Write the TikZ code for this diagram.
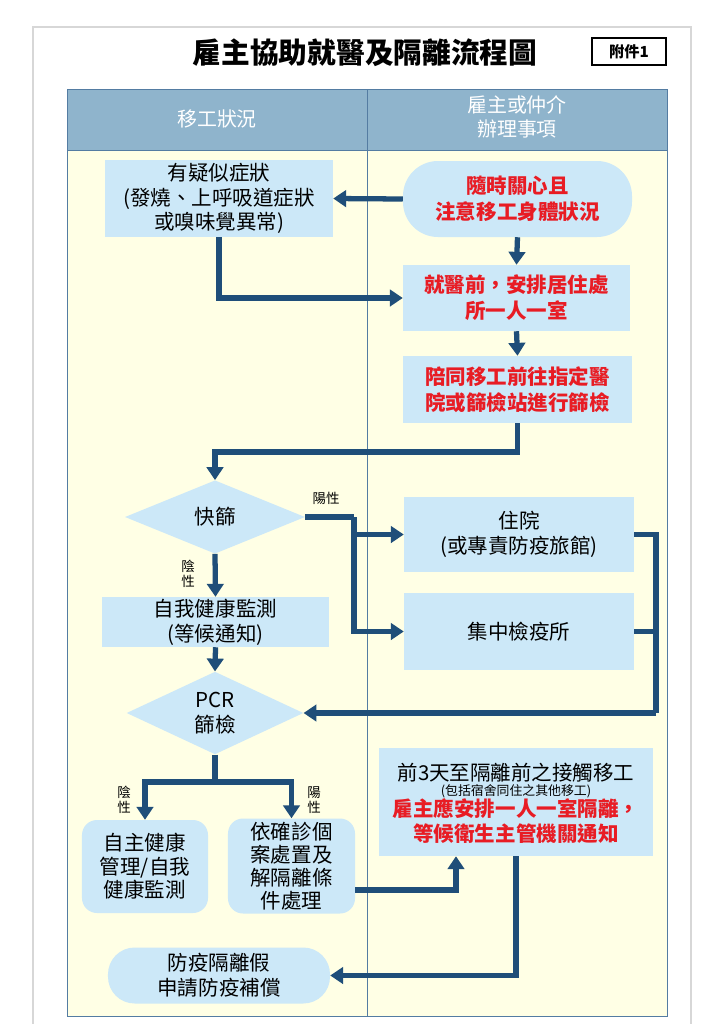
\documentclass[tikz,border=0pt]{standalone}
\usepackage{fontspec}
\setmainfont{Noto Sans CJK TC}
\usetikzlibrary{arrows.meta,shapes.geometric}
\definecolor{boxblue}{RGB}{204,232,248}
\definecolor{cream}{RGB}{255,255,229}
\definecolor{headblue}{RGB}{143,180,204}
\definecolor{arrowblue}{RGB}{31,78,121}
\definecolor{txtred}{RGB}{232,28,36}
\definecolor{tline}{RGB}{84,124,162}
\definecolor{framegray}{RGB}{215,215,215}
\begin{document}
\begin{tikzpicture}[x=0.03cm,y=-0.03cm,
  box/.style={rectangle, fill=boxblue, draw=none, align=center, inner sep=0pt,
    font=\fontsize{17.5}{21}\selectfont},
  redbox/.style={box, text=txtred, font=\fontsize{17.5}{22}\selectfont\bfseries},
  dia/.style={diamond, fill=boxblue, draw=none, align=center, inner sep=0pt,
    font=\fontsize{17.5}{21}\selectfont},
  hdr/.style={text=white, align=center, font=\fontsize{17}{20.5}\selectfont},
  lbl/.style={align=center, inner sep=0pt, font=\fontsize{11.5}{13}\selectfont},
  conn/.style={draw=arrowblue, line width=4.5pt},
  arr/.style={conn, -{Triangle[width=14pt,length=11pt]}}
]
\useasboundingbox (0,0) rectangle (724,1024);
\fill[white] (0,0) rectangle (724,1024);
\draw[framegray, line width=1.2pt] (33,1040) -- (33,27) -- (691,27) -- (691,1040);

% title
\node[font=\fontsize{24.5}{28}\selectfont\bfseries] (title) at (365,53) {雇主協助就醫及隔離流程圖};
\node[draw, line width=0.9pt, minimum width=2.22cm, minimum height=0.81cm, inner sep=0pt,
  font=\fontsize{13}{15}\selectfont\bfseries] (att) at (629,51.5) {附件1};

% table
\fill[headblue] (67,89) rectangle (667,150);
\fill[cream] (67,150) rectangle (667,1016);
\draw[tline, line width=0.8pt] (67,89) rectangle (667,1016);
\draw[tline, line width=0.8pt] (367,89) -- (367,1016);
\draw[tline, line width=0.8pt] (67,150) -- (667,150);
\node[hdr] (h1) at (217,119) {移工狀況};
\node[hdr] (h2) at (517,117) {雇主或仲介\\辦理事項};

% nodes
\node[box, minimum width=6.84cm, minimum height=2.31cm] (sym) at (219,198.5)
  {有疑似症狀\\(發燒、上呼吸道症狀\\或嗅味覺異常)};
\node[redbox, rounded corners=1.05cm, minimum width=6.87cm, minimum height=2.28cm] (care) at (517.5,199)
  {隨時關心且\\注意移工身體狀況};
\node[redbox, minimum width=6.81cm, minimum height=1.98cm] (before) at (516.5,298)
  {就醫前，安排居住處\\所一人一室};
\node[redbox, minimum width=6.87cm, minimum height=2.01cm] (accomp) at (517.5,389.5)
  {陪同移工前往指定醫\\院或篩檢站進行篩檢};
\node[dia, minimum width=5.4cm, minimum height=2.2cm] (rapid) at (215,517) {快篩};
\node[box, minimum width=6.9cm, minimum height=2.25cm] (hosp) at (519,534.5)
  {住院\\(或專責防疫旅館)};
\node[box, minimum width=6.81cm, minimum height=1.5cm] (self) at (215.5,622)
  {自我健康監測\\(等候通知)};
\node[box, minimum width=6.9cm, minimum height=2.31cm] (quar) at (519,631.5) {集中檢疫所};
\node[dia, minimum width=5.3cm, minimum height=2.13cm] (pcr) at (215,713) {PCR\\篩檢};
\node[box, minimum width=8.22cm, minimum height=3.24cm] (contact) at (516,802) {};
\node[font=\fontsize{17.5}{21}\selectfont, inner sep=0pt] (ct1) at (516,773) {前3天至隔離前之接觸移工};
\node[font=\fontsize{11}{13}\selectfont, inner sep=0pt] (ct2) at (516,791) {(包括宿舍同住之其他移工)};
\node[text=txtred, align=center, inner sep=0pt, font=\fontsize{17.5}{22}\selectfont\bfseries] (ct3) at (516,821)
  {雇主應安排一人一室隔離，\\等候衛生主管機關通知};
\node[box, rounded corners=0.45cm, minimum width=3.78cm, minimum height=2.79cm,
  font=\fontsize{17.5}{20}\selectfont] (selfm) at (145,866.5)
  {自主健康\\管理/自我\\健康監測};
\node[box, rounded corners=0.45cm, minimum width=3.81cm, minimum height=2.85cm,
  font=\fontsize{17.5}{19.6}\selectfont] (conf) at (291.5,866)
  {依確診個\\案處置及\\解隔離條\\件處理};
\node[box, rounded corners=0.8cm, minimum width=6.66cm, minimum height=1.68cm] (leave) at (219,975.5)
  {防疫隔離假\\申請防疫補償};

% junctions
\coordinate (j1) at (517,452);
\coordinate (j2) at (354,517);
\coordinate (j3) at (656,713);
\coordinate (j4) at (215,782);

% connectors
\draw[arr] (care.west) -- (sym.east);
\draw[arr] (sym.south) |- (before.west);
\draw[arr] (care.south) -- (before.north);
\draw[arr] (before.south) -- (accomp.north);
\draw[arr] (accomp.south) -- (accomp.south |- j1) -| (rapid.north);
\draw[conn] (rapid.east) -- (j2);
\draw[arr] (j2) |- (hosp.west);
\draw[arr] (j2) |- (quar.west);
\draw[arr] (rapid.south) -- (self.north);
\draw[arr] (self.south) -- (pcr.north);
\draw[conn] (hosp.east) -| (j3);
\draw[conn] (quar.east) -| (j3);
\draw[arr] (j3) -- (pcr.east);
\draw[conn] (pcr.south) -- (j4);
\draw[arr] (j4) -| (selfm.north);
\draw[arr] (j4) -| (conf.north);
\draw[arr] ([yshift=-0.72cm]conf.east) -| ([xshift=-1.8cm]contact.south);
\draw[arr] (contact.south) |- (leave.east);

% labels
\node[lbl] (l1) at (326,498) {陽性};
\node[lbl] (l2) at (188,574) {陰\\性};
\node[lbl] (l3) at (124,800) {陰\\性};
\node[lbl] (l4) at (314,800) {陽\\性};
\end{tikzpicture}
\end{document}
